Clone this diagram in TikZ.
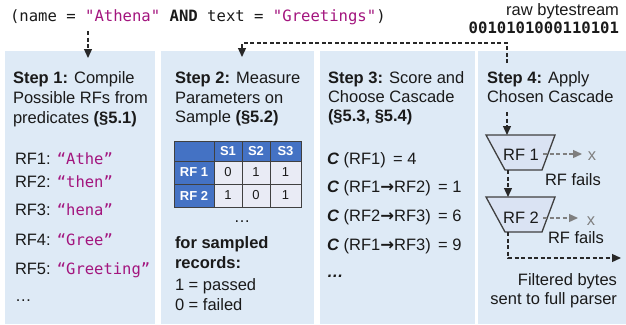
\documentclass[tikz,border=0pt]{standalone}
\usepackage{fontspec}
\setmainfont{Liberation Sans}
\setmonofont{DejaVu Sans Mono}
\newfontfamily\dejavu{DejaVu Sans}
\usetikzlibrary{arrows.meta}
\definecolor{panel}{RGB}{222,234,246}
\definecolor{hdr}{RGB}{68,114,196}
\definecolor{cellc}{RGB}{233,235,245}
\definecolor{mag}{RGB}{163,21,126}
\definecolor{txt}{RGB}{26,26,26}
\definecolor{arr}{RGB}{40,40,40}
\definecolor{gryarr}{RGB}{127,127,127}
\definecolor{trapc}{RGB}{218,227,243}
\definecolor{edge}{RGB}{64,64,64}
\newcommand\strg[1]{{\fontsize{15.5}{15.5}\ttfamily\color{mag}#1}}
\newcommand\rarr{{\dejavu\bfseries →}}
\begin{document}
\begin{tikzpicture}[x=1pt,y=-1pt,
  every node/.style={inner sep=0pt, outer sep=0pt, text=txt},
  body/.style={anchor=base west, font=\fontsize{16.5}{19.5}\selectfont},
  bodye/.style={anchor=base east, font=\fontsize{16.5}{19.5}\selectfont},
  dline/.style={draw=arr, line width=1.3pt, dash pattern=on 4pt off 2.5pt},
  gline/.style={draw=gryarr, line width=1.3pt, dash pattern=on 4pt off 2.5pt},
  tip/.style={-{Triangle[length=9pt,width=8pt]}},
  cell/.style={draw=edge, line width=0.7pt, fill=cellc, minimum height=23pt, font=\fontsize{13}{13}\selectfont},
  hcell/.style={cell, fill=hdr, text=white, font=\fontsize{13}{13}\selectfont\bfseries},
  trapz/.style={draw=edge, line width=1.3pt, fill=trapc}
]
\path[use as bounding box] (0,0) rectangle (626,324);
% panels
\fill[panel] (5,51) rectangle (155,324);
\fill[panel] (161,51) rectangle (314,324);
\fill[panel] (320,51) rectangle (475,324);
\fill[panel] (478,51) rectangle (626,324);

% top text
\node[anchor=base west, font=\fontsize{15.6}{15.6}\ttfamily] (query) at (10,21)
  {(name = \textcolor{mag}{"Athena"} \textbf{AND} text = \textcolor{mag}{"Greetings"})};
\node[bodye] (raw) at (619,15) {raw bytestream};
\node[anchor=base east, font=\fontsize{15.6}{15.6}\ttfamily\bfseries] (bits) at (619,33) {0010101000110101};

% panel 1
\node[body] (s1a) at (13,83) {\textbf{Step 1:} Compile};
\node[body] (s1b) at (13,103) {Possible RFs from};
\node[body] (s1c) at (13,123) {predicates \textbf{(§5.1)}};
\node[body] (rf1) at (15,164) {RF1: \strg{“Athe”}};
\node[body] (rf2) at (15,187) {RF2: \strg{“then”}};
\node[body] (rf3) at (15,215) {RF3: \strg{“hena”}};
\node[body] (rf4) at (15,245) {RF4: \strg{“Gree”}};
\node[body] (rf5) at (15,274) {RF5: \strg{“Greeting”}};
\node[body] (rfd) at (15,301) {…};

% panel 2
\node[body] (s2a) at (175,83) {\textbf{Step 2:} Measure};
\node[body] (s2b) at (175,103) {Parameters on};
\node[body] (s2c) at (175,122) {Sample \textbf{(§5.2)}};
\node[hcell, minimum width=40pt, minimum height=20pt] (t00) at (194,151) {};
\node[hcell, minimum width=28pt, minimum height=20pt] (t01) at (228,151) {S1};
\node[hcell, minimum width=28pt, minimum height=20pt] (t02) at (256,151) {S2};
\node[hcell, minimum width=31pt, minimum height=20pt] (t03) at (285.5,151) {S3};
\node[hcell, minimum width=40pt] (t10) at (194,172.5) {RF 1};
\node[cell, minimum width=28pt] (t11) at (228,172.5) {0};
\node[cell, minimum width=28pt] (t12) at (256,172.5) {1};
\node[cell, minimum width=31pt] (t13) at (285.5,172.5) {1};
\node[hcell, minimum width=40pt] (t20) at (194,195.5) {RF 2};
\node[cell, minimum width=28pt] (t21) at (228,195.5) {1};
\node[cell, minimum width=28pt] (t22) at (256,195.5) {0};
\node[cell, minimum width=31pt] (t23) at (285.5,195.5) {1};
\node[anchor=base, font=\fontsize{16.5}{19.5}\selectfont] (tdots) at (242,222) {…};
\node[body] (p2a) at (175,248) {\textbf{for sampled}};
\node[body] (p2b) at (175,268) {\textbf{records:}};
\node[body] (p2c) at (175,290) {1 = passed};
\node[body] (p2d) at (175,310) {0 = failed};

% panel 3
\node[body] (s3a) at (328,83) {\textbf{Step 3:} Score and};
\node[body] (s3b) at (328,102) {Choose Cascade};
\node[body] (s3c) at (328,121) {\textbf{(§5.3, §5.4)}};
\node[body] (c1) at (327,164) {\textbf{\textit{C}} (RF1) \,= 4};
\node[body] (c2) at (327,192) {\textbf{\textit{C}} (RF1\rarr RF2) \,= 1};
\node[body] (c3) at (327,221) {\textbf{\textit{C}} (RF2\rarr RF3) \,= 6};
\node[body] (c4) at (327,250) {\textbf{\textit{C}} (RF1\rarr RF3) \,= 9};
\node[body] (cd) at (327,277) {\textbf{\textit{…}}};

% panel 4
\node[body] (s4a) at (487,83) {\textbf{Step 4:} Apply};
\node[body] (s4b) at (487,102) {Chosen Cascade};
\draw[trapz] (486,135) -- (555,135) -- (542,170) -- (505,170) -- cycle;
\draw[trapz] (486,197) -- (555,197) -- (542,232) -- (505,232) -- cycle;
\node[anchor=base, font=\fontsize{16.5}{19.5}\selectfont] (f1) at (521,160) {RF 1};
\node[anchor=base, font=\fontsize{16.5}{19.5}\selectfont] (f2) at (521,223) {RF 2};
\node[anchor=base, font=\fontsize{16.5}{19.5}\selectfont, text=gryarr] (x1) at (592,160) {x};
\node[anchor=base, font=\fontsize{16.5}{19.5}\selectfont, text=gryarr] (x2) at (591,225) {x};
\node[body] (fail1) at (545,185) {RF fails};
\node[body] (fail2) at (548,243) {RF fails};
\node[bodye] (out1) at (617,285) {Filtered bytes};
\node[bodye] (out2) at (617,304) {sent to full parser};

% connectors
\coordinate (a1s) at (88,31);
\coordinate (a1e) at (88,58);
\draw[dline, tip] (a1s) -- (a1e);
\coordinate (bs) at (507,43);
\coordinate (b4) at (507,63);
\coordinate (b2) at (242,57);
\draw[dline, tip] (b4) -- (bs) -| (b2);
\coordinate (c4s) at (507,112);
\coordinate (t1top) at (507,135);
\draw[dline, tip] (c4s) -- (t1top);
\coordinate (t1bot) at (508,170);
\coordinate (t2top) at (508,197);
\draw[dline, tip] (t1bot) -- (t2top);
\coordinate (t1r) at (543,154);
\coordinate (x1e) at (582,154);
\draw[gline, tip] (t1r) -- (x1e);
\coordinate (t2r) at (543,218);
\coordinate (x2e) at (578,218);
\draw[gline, tip] (t2r) -- (x2e);
\coordinate (t2bot) at (508,232);
\coordinate (oute) at (621,258);
\draw[dline, tip] (t2bot) |- (oute);
\end{tikzpicture}
\end{document}
